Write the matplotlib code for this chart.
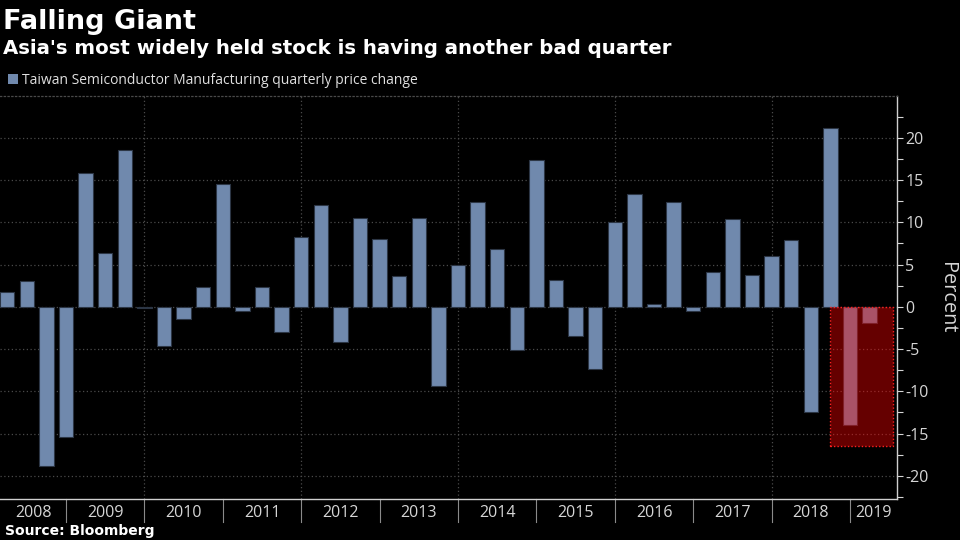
import numpy as np
import matplotlib
matplotlib.use("Agg")
import matplotlib.pyplot as plt
import matplotlib.transforms as mtransforms
from matplotlib.patches import Patch, Rectangle

plt.rcParams['axes.unicode_minus'] = False

# quarterly price change, 2008Q1 .. 2019Q1 (percent)
years = list(range(2008, 2020))
quarters = [f"{y}Q{q}" for y in years for q in range(1, 5)][:45]
changes = [1.7, 3.0, -18.8, -15.4,
           15.8, 6.4, 18.5, -0.1,
           -4.6, -1.5, 2.3, 14.5,
           -0.5, 2.3, -3.0, 8.3,
           12.0, -4.2, 10.5, 8.0,
           3.6, 10.5, -9.4, 5.0,
           12.4, 6.8, -5.1, 17.4,
           3.2, -3.4, -7.4, 10.0,
           13.3, 0.3, 12.4, -0.5,
           4.1, 10.4, 3.8, 6.0,
           7.9, -12.5, 21.2, -14.0,
           -1.9]
yticks = [-20, -15, -10, -5, 0, 5, 10, 15, 20]

BAR = '#7089ad'
EDGE = '#2c3645'
GRID = '#4a4a4a'
TICK = '#d6d6d6'
LABEL_FONT = 'Open Sans'

fig = plt.figure(figsize=(9.6, 5.4), dpi=100, facecolor='black')
ax = fig.add_axes([0, 0.0759, 0.9344, 0.7472], facecolor='black')

x = np.arange(len(changes))
ax.bar(x, changes, width=0.73, color=BAR, edgecolor=EDGE, linewidth=0.8, zorder=3,
       label='Taiwan Semiconductor Manufacturing quarterly price change')

ax.set_xlim(-0.37, 45.4)
ax.set_ylim(-22.75, 25)

# highlight the latest bad quarters
h0 = quarters.index('2018Q3')
ax.add_patch(Rectangle((h0, -16.5), 3.18, 16.5, facecolor=(1, 0, 0, 0.4),
                       edgecolor='#ff2020', linestyle=(0, (1, 1.5)), linewidth=1.0, zorder=4))

# y axis on the right
ax.yaxis.tick_right()
ax.set_yticks(yticks)
ax.set_yticks(np.arange(-22.5, 25, 2.5), minor=True)
ax.tick_params(axis='y', which='both', direction='out', colors=TICK, length=4, width=0.8,
               labelsize=11.5, pad=2)
for lab in ax.get_yticklabels():
    lab.set_fontfamily(LABEL_FONT)
ax.set_ylabel('Percent', rotation=270, color=TICK, fontsize=14.3, family=LABEL_FONT)
ax.yaxis.set_label_position('right')
ax.yaxis.label.set_ha('center')
ax.yaxis.label.set_va('center')
ax.yaxis.set_label_coords(1.056, 0.5)

# year boundaries: end of each Q4
bounds = [i for i, q in enumerate(quarters) if q.endswith('Q4')]
ax.set_xticks(bounds[1::2])
ax.tick_params(axis='x', which='both', length=0, labelbottom=False)

ax.grid(True, which='major', color=GRID, linestyle=(0, (1, 2)), linewidth=0.9, zorder=0)
ax.set_axisbelow(True)

ax.spines['left'].set_visible(False)
ax.spines['top'].set_color(GRID)
ax.spines['top'].set_linestyle((0, (1, 2)))
ax.spines['top'].set_linewidth(0.9)
ax.spines['right'].set_color('#cfcfcf')
ax.spines['bottom'].set_color('#cfcfcf')
ax.spines['right'].set_linewidth(1.0)
ax.spines['bottom'].set_linewidth(1.0)

# year labels and separators under the axis
trans = mtransforms.blended_transform_factory(ax.transData, ax.transAxes)
xmin, xmax = ax.get_xlim()
for k, yr in enumerate(years):
    lo = max(4 * k - 1, xmin)
    hi = min(4 * k + 3, xmax)
    ax.text((lo + hi) / 2, -0.045, str(yr), transform=trans, ha='center', va='baseline',
            color=TICK, fontsize=11.5, family=LABEL_FONT)
for b in bounds:
    ax.plot([b, b], [0, -0.058], transform=trans, color='#8a8a8a', linewidth=0.8,
            clip_on=False)

# legend
leg = fig.legend(handles=[Patch(facecolor=BAR, edgecolor='none',
                                label='Taiwan Semiconductor Manufacturing quarterly price change')],
                 loc='center left', bbox_to_anchor=(0.0085, 1 - 80.5 / 540), frameon=False,
                 handlelength=0.72, handleheight=0.72, handletextpad=0.3, borderpad=0,
                 borderaxespad=0, prop={'family': LABEL_FONT, 'size': 10.0})
for t in leg.get_texts():
    t.set_color('#e0e0e0')

fig.text(0.003, 1 - 29.3 / 540, 'Falling Giant', color='white', fontsize=19.5,
         fontweight='bold', family='DejaVu Sans', va='baseline')
fig.text(0.003, 1 - 54.3 / 540, "Asia's most widely held stock is having another bad quarter",
         color='white', fontsize=14.2, fontweight='bold', family='DejaVu Sans', va='baseline')
fig.text(0.005, 5.5 / 540, 'Source: Bloomberg', color='white', fontsize=10,
         fontweight='bold', family='DejaVu Sans', va='baseline')

fig.savefig('out.png', dpi=100, facecolor='black')
